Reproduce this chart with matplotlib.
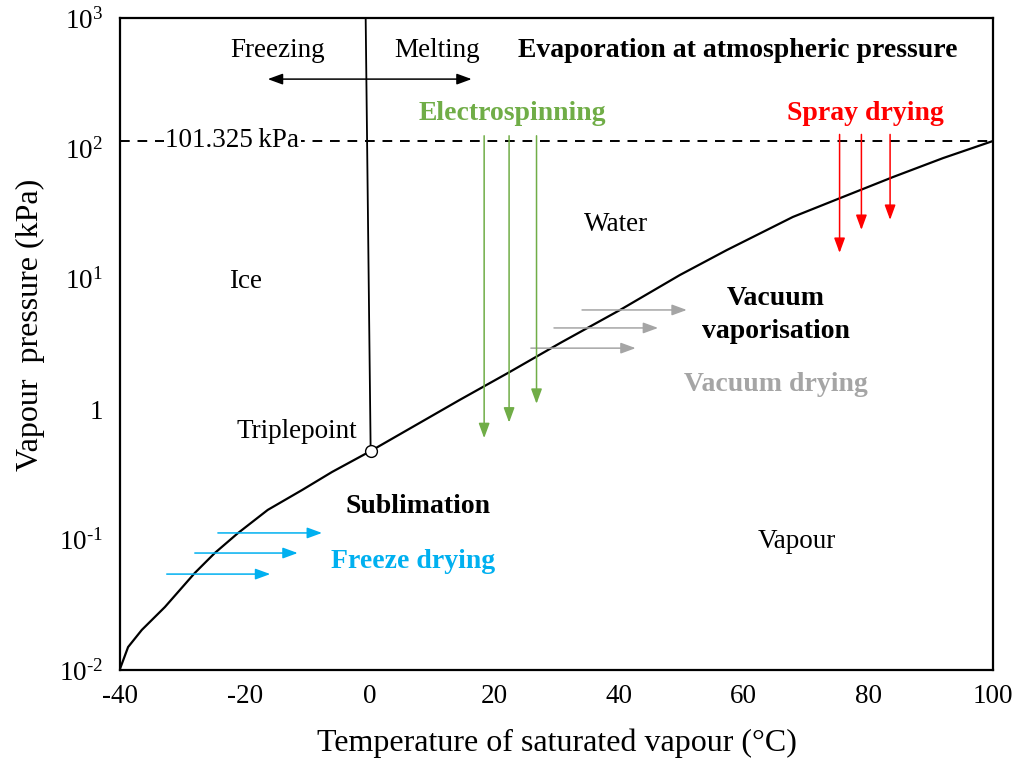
import numpy as np
import matplotlib
matplotlib.use('Agg')
import matplotlib.pyplot as plt
import matplotlib.ticker as ticker

plt.rcParams['font.family'] = ['Liberation Serif', 'DejaVu Serif']
plt.rcParams['mathtext.fontset'] = 'custom'
plt.rcParams['mathtext.rm'] = 'Liberation Serif'
plt.rcParams['mathtext.it'] = 'Liberation Serif:italic'
plt.rcParams['mathtext.bf'] = 'Liberation Serif:bold'

#### Curva de saturacion ####
temp_curve = [-40, -38.7, -36.5, -32.8, -28.0, -24.8, -21.1, -16.3, -10.8, -6.0, 0.2,
              14.5, 22.5, 30.6, 40.2, 49.8, 57.3, 67.9, 75.1, 84.0, 92.0, 100]
pres_curve = [0.0102, 0.0150, 0.0203, 0.0304, 0.0555, 0.0789, 0.112, 0.169, 0.240, 0.330, 0.478,
              1.18, 1.93, 3.22, 5.77, 10.7, 16.6, 29.8, 40.9, 60.4, 84.3, 114]

#### Linea de fusion y punto triple ####
temp_melt = [0.2, -0.6]
pres_melt = [0.478, 1000]
triple_t, triple_p = 0.2, 0.478
p_atm_line = 114          # posicion dibujada de la linea de 101.325 kPa
p_atm_label = '101.325\u2009kPa'

#### Flechas horizontales (inicio T, fin T, presion) ####
freeze_t0 = [-24.3, -28.0, -32.5]
freeze_t1 = [-7.6, -11.5, -15.9]
freeze_p = [0.1125, 0.0789, 0.0544]

vacuum_t0 = [34.1, 29.6, 25.9]
vacuum_t1 = [50.9, 46.3, 42.7]
vacuum_p = [5.77, 4.20, 2.94]

#### Flechas verticales (T, presion inicio, presion fin) ####
electro_t = [18.4, 22.4, 26.8]
electro_p0 = [125, 125, 125]
electro_p1 = [0.60, 0.79, 1.10]

spray_t = [75.4, 78.9, 83.5]
spray_p0 = [128, 128, 128]
spray_p1 = [15.8, 23.7, 28.3]

#### Flecha congelacion / fusion ####
fm_t = [-16.3, 16.4]
fm_p = 340

yticks = [1e-2, 1e-1, 1, 10, 100, 1000]
ytick_labels = ['$10^{\u2010 2}$', '$10^{\u2010 1}$', '1', '$10^{1}$', '$10^{2}$', '$10^{3}$']

col_blue = '#00B0F0'
col_green = '#70AD47'
col_red = '#FF0000'
col_gray = '#A5A5A5'

fig = plt.figure(figsize=(10.22, 7.6), dpi=100)
ax = fig.add_axes([0.1174, 0.1184, 0.8542, 0.8579])

ax.plot(temp_curve, pres_curve, color='black', lw=1.6, zorder=3)
ax.plot(temp_melt, pres_melt, color='black', lw=1.3, zorder=3)
ax.axhline(p_atm_line, color='black', lw=1.4, ls=(0, (5, 4)), zorder=2)
ax.plot([triple_t], [triple_p], 'o', ms=8.5, mfc='white', mec='black', mew=1.0, zorder=5)

estilo = '-|>,head_length=0.6,head_width=0.22'

def flecha(x0, y0, x1, y1, color):
    ax.annotate('', xy=(x1, y1), xytext=(x0, y0),
                arrowprops=dict(arrowstyle=estilo, color=color, lw=1.1,
                                mutation_scale=15, shrinkA=0, shrinkB=0), zorder=4)

for a, b, p in zip(freeze_t0, freeze_t1, freeze_p):
    flecha(a, p, b, p, col_blue)
for a, b, p in zip(vacuum_t0, vacuum_t1, vacuum_p):
    flecha(a, p, b, p, col_gray)
for t, p0, p1 in zip(electro_t, electro_p0, electro_p1):
    flecha(t, p0, t, p1, col_green)
for t, p0, p1 in zip(spray_t, spray_p0, spray_p1):
    flecha(t, p0, t, p1, col_red)

ax.annotate('', xy=(fm_t[0], fm_p), xytext=(fm_t[1], fm_p),
            arrowprops=dict(arrowstyle='<|-|>,head_length=0.6,head_width=0.22', color='black', lw=1.1,
                            mutation_scale=15, shrinkA=0, shrinkB=0))

ax.set_yscale('log')
ax.set_xlim(-40, 100)
ax.set_ylim(1e-2, 1e3)
ax.set_xticks([-40, -20, 0, 20, 40, 60, 80, 100])
ax.set_xticklabels(['-40', '-20', '0', '20', '40', '60', '80', '100'])
ax.set_yticks(yticks)
ax.set_yticklabels(ytick_labels)
ax.yaxis.set_minor_locator(ticker.NullLocator())
ax.tick_params(axis='both', length=0, labelsize=19.5, pad=10)
ax.tick_params(axis='y', pad=12)
for s in ax.spines.values():
    s.set_linewidth(1.6)

ax.set_xlabel('Temperature of saturated vapour (\u00b0C)', fontsize=23, labelpad=14)
ax.set_ylabel('Vapour  pressure (kPa)', fontsize=23)
ax.yaxis.set_label_coords(-0.086, 0.53)

#### Textos ####
def txt(x, y, s, size=19.5, **kw):
    ax.text(x, y, s, ha='center', va='center', fontsize=size, **kw)

txt(-14.7, 560, 'Freezing')
txt(10.8, 560, 'Melting')
txt(59, 560, 'Evaporation at atmospheric pressure', size=20, fontweight='bold')
txt(22.9, 185, 'Electrospinning', size=20, fontweight='bold', color=col_green)
txt(79.6, 185, 'Spray drying', size=20, fontweight='bold', color=col_red)
ax.text(-22, p_atm_line, p_atm_label, ha='center', va='center', fontsize=19.5,
        bbox=dict(facecolor='white', edgecolor='none', pad=1), zorder=3)
txt(39.5, 26, 'Water')
txt(-19.8, 9.6, 'Ice')
txt(65.2, 7.1, 'Vacuum', size=20, fontweight='bold')
txt(65.2, 3.95, 'vaporisation', size=20, fontweight='bold')
txt(65.2, 1.55, 'Vacuum drying', size=20, fontweight='bold', color=col_gray)
txt(-11.6, 0.68, 'Triplepoint')
txt(7.8, 0.18, 'Sublimation', size=20, fontweight='bold')
txt(7.0, 0.068, 'Freeze drying', size=20, fontweight='bold', color=col_blue)
txt(68.6, 0.097, 'Vapour')

plt.savefig('out.png', dpi=100)
